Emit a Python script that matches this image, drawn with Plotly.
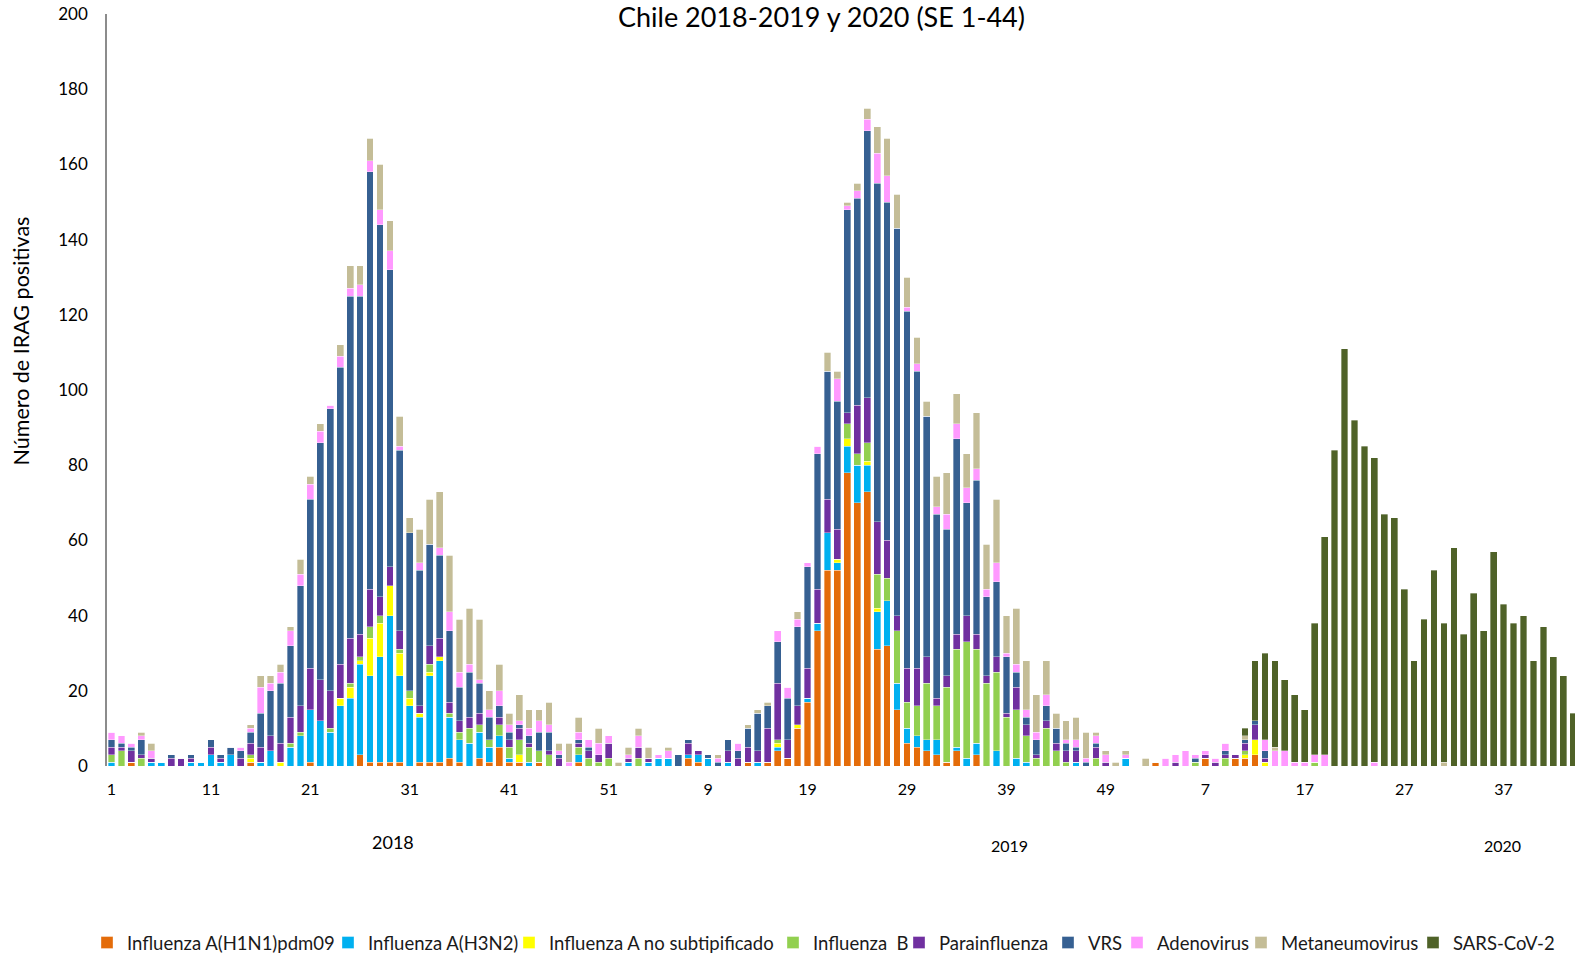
import plotly.graph_objects as go

# ---------------- data ----------------
weeks_2018 = list(range(1, 53))
weeks_2019 = list(range(1, 53))
weeks_2020 = list(range(1, 45))

h1n1_2018 = [0,0,1,0,0,0,0,0,0,0, 0,0,0,0,1,0,0,0,0,0, 1,0,0,0,0,3,1,1,1,1,
             0,1,1,1,2,1,0,2,1,5, 1,1,0,1,0,0,0,1,0,0, 0,0]
h1n1_2019 = [0,0,0,0,0,0,2,1,0,0, 0,0,1,0,1,4,2,10,17,36, 52,52,78,70,73,31,32,15,6,5,
             4,3,1,4,0,3,0,0,0,0, 0,0,0,0,0,0,0,0,0,0, 0,0]
h1n1_2020 = [0,1,0,0,0,0,2,0,0,2, 2,3,0,0,0,0,0,0,0,0, 0,0,0,0,0,0,0,0,0,0,
             0,0,0,0,0,0,0,0,0,0, 0,0,0,0]

h3n2_2018 = [1,0,0,0,1,1,0,0,1,1, 3,1,3,0,0,1,4,0,5,8, 14,12,9,16,18,24,23,28,39,23,
             16,12,23,27,11,6,6,7,4,3, 1,0,1,0,0,0,0,2,0,0, 0,0]
h3n2_2019 = [1,0,1,2,2,0,1,2,2,0, 1,0,0,1,0,1,0,0,1,2, 10,2,7,10,7,10,12,7,4,3,
             3,4,0,1,2,3,0,4,0,2, 1,0,0,0,0,1,0,0,0,0, 2,0]
h3n2_2020 = [0,0,0,0,0,0,0,0,0,0, 0,0,0,0,0,0,0,0,0,0, 0,0,0,0,0,0,0,0,0,0,
             0,0,0,0,0,0,0,0,0,0, 0,0,0,0]

ans_2018 = [0,0,0,0,0,0,0,0,0,0, 0,0,0,0,1,0,0,1,0,0, 0,0,0,2,3,1,10,9,8,6,
            2,1,1,1,0,0,0,0,0,0, 0,2,0,0,0,0,0,0,0,0, 0,0]
ans_2019 = [0,0,0,0,0,0,0,0,0,0, 0,0,0,0,0,1,0,1,0,0, 0,1,2,0,1,1,0,0,0,0,
            0,0,0,0,0,0,0,0,0,0, 0,0,0,0,0,0,0,0,0,0, 0,0]
ans_2020 = [0,0,0,0,0,0,0,0,0,0, 1,4,1,0,0,0,0,0,0,0, 0,0,0,0,0,0,0,0,0,0,
            0,0,0,0,0,0,0,0,0,0, 0,0,0,0]

flub_2018 = [2,4,0,2,0,0,0,0,0,0, 0,0,0,0,1,0,0,0,1,1, 0,0,1,0,1,1,3,2,0,1,
             2,0,2,0,1,2,4,2,2,3, 3,4,4,3,3,0,0,2,2,1, 2,0]
flub_2019 = [0,2,0,0,0,0,0,0,0,0, 0,0,0,0,0,1,0,0,0,0, 0,0,4,3,5,9,6,14,7,8,
             15,9,20,26,31,25,22,21,13,13, 7,2,10,4,1,0,0,2,0,0, 0,0]
flub_2020 = [0,0,0,0,0,1,0,0,2,0, 1,0,0,0,0,0,0,1,0,0, 0,0,0,0,0,0,0,0,0,0,
             0,0,0,0,0,0,0,0,0,0, 0,0,0,0]

para_2018 = [2,1,3,1,1,0,2,2,1,0, 2,1,0,2,3,4,4,5,7,7, 11,11,10,9,12,6,10,5,5,5,
             0,2,5,5,3,3,3,3,0,2, 2,3,1,0,1,2,0,1,2,2, 4,0]
para_2019 = [1,3,1,0,0,0,3,1,0,0, 3,2,4,3,9,15,5,5,8,9, 9,8,3,13,12,14,10,4,9,10,
             7,2,3,4,7,4,2,4,1,6, 3,1,2,2,3,3,0,3,1,0, 0,0]
para_2020 = [0,0,0,1,0,0,1,1,1,1, 2,4,1,0,0,0,0,0,0,0, 0,0,0,0,0,0,0,0,0,0,
             0,0,0,0,0,0,0,0,0,0, 0,0,0,0]

vrs_2018 = [2,1,1,4,0,0,1,0,1,0, 2,1,2,2,3,9,12,16,19,32, 45,63,75,79,91,90,111,99,79,48,
            42,36,27,22,19,9,12,8,6,3, 2,1,2,5,5,1,0,1,1,0, 0,0]
vrs_2019 = [0,0,0,0,0,3,1,0,1,1, 3,2,5,10,6,11,11,21,27,36, 34,34,54,55,71,90,90,103,95,79,
            64,49,39,52,30,41,21,20,15,4, 2,4,4,4,2,1,1,1,0,0, 0,0]
vrs_2020 = [0,0,0,0,0,1,0,0,1,0, 1,1,2,0,0,0,0,0,0,0, 0,0,0,0,0,0,0,0,0,0,
            0,0,0,0,0,0,0,0,0,0, 0,0,0,0]

adeno_2018 = [2,2,1,1,2,0,0,0,0,0, 0,0,0,1,1,7,2,3,4,3, 4,3,1,3,2,3,3,4,5,1,
              0,2,0,2,5,4,2,1,2,4, 2,1,2,3,2,1,1,2,2,3, 2,0]
adeno_2019 = [1,3,0,1,2,0,0,0,0,1, 0,2,0,0,0,3,3,2,1,2, 0,6,1,2,3,8,7,0,1,2,
              0,2,4,4,4,3,2,5,1,2, 2,2,3,0,1,2,1,2,2,0, 1,0]
adeno_2020 = [0,0,2,2,4,1,1,1,2,0, 0,0,3,4,4,1,1,2,3,0, 0,0,0,1,0,0,0,0,0,0,
              0,0,0,0,0,0,0,0,0,0, 0,0,0,0]

meta_2018 = [0,0,0,1,2,0,0,0,0,0, 0,0,0,0,1,3,2,2,1,4, 2,2,0,3,6,5,6,12,8,8,
             4,9,12,15,15,14,15,16,5,7, 3,7,5,3,6,2,5,4,0,4, 0,1]
meta_2019 = [2,2,3,0,1,0,0,0,0,1, 0,0,1,1,1,0,0,2,0,0, 5,2,1,2,3,7,10,9,8,7,
             4,8,11,8,9,15,12,17,10,15, 13,10,9,4,5,6,7,1,1,1, 1,0]
meta_2020 = [2,0,0,0,0,0,0,0,0,0, 1,0,0,1,0,0,0,0,0,0, 0,0,0,0,0,0,0,0,0,0,
             1,0,0,0,0,0,0,0,0,0, 0,0,0,0]

sars_2018 = [0] * 52
sars_2019 = [0] * 52
sars_2020 = [0,0,0,0,0,0,0,0,0,0, 2,16,23,23,19,18,14,35,58,84,
             111,92,85,81,67,66,47,28,39,52, 37,58,35,46,36,57,43,38,40,28,
             37,29,24,14]

series_names = ["Influenza A(H1N1)pdm09", "Influenza A(H3N2)", "Influenza A no subtipificado",
                "Influenza  B", "Parainfluenza", "VRS", "Adenovirus", "Metaneumovirus", "SARS-CoV-2"]
series_values = [
    h1n1_2018 + h1n1_2019 + h1n1_2020,
    h3n2_2018 + h3n2_2019 + h3n2_2020,
    ans_2018 + ans_2019 + ans_2020,
    flub_2018 + flub_2019 + flub_2020,
    para_2018 + para_2019 + para_2020,
    vrs_2018 + vrs_2019 + vrs_2020,
    adeno_2018 + adeno_2019 + adeno_2020,
    meta_2018 + meta_2019 + meta_2020,
    sars_2018 + sars_2019 + sars_2020,
]
series_colors = ["#E46C0A", "#00B0F0", "#FFFF00", "#92D050", "#7030A0",
                 "#366092", "#FF99FF", "#C4BD97", "#4F6228"]

categories = ([f"2018-{w}" for w in weeks_2018] + [f"2019-{w}" for w in weeks_2019]
              + [f"2020-{w}" for w in weeks_2020])
for v in series_values:
    assert len(v) == len(categories)

tick_cats = categories[::10]
tick_text = [c.split("-")[1] for c in tick_cats]

FONT = "Lato"
W, H = 1575, 953
L, R, T, B = 107, 0, 14, 187
plot_w = W - L - R
plot_h = H - T - B

# legend text start positions (px) for each entry
legend_text_px = [127, 368, 549, 813, 939, 1088, 1157, 1281, 1453]
legend_y_px = 943

fig = go.Figure()
legend_layout = {}
for i, (name, vals, col) in enumerate(zip(series_names, series_values, series_colors)):
    lg = "legend" if i == 0 else f"legend{i+1}"
    fig.add_trace(go.Bar(
        x=categories, y=vals, name=name,
        marker=dict(color=col, line=dict(color="rgba(255,255,255,0.7)", width=0.5)),
        legend=lg,
    ))
    legend_layout[lg] = dict(
        orientation="h", xref="container", yref="paper",
        x=(legend_text_px[i] - 40) / W, y=(H - B - legend_y_px) / plot_h,
        xanchor="left", yanchor="middle",
        font=dict(family=FONT, size=18.5, color="#1a1a1a"),
        bgcolor="rgba(0,0,0,0)", borderwidth=0,
    )

fig.update_layout(
    width=W, height=H,
    barmode="stack", bargap=0.32,
    plot_bgcolor="white", paper_bgcolor="white",
    margin=dict(l=L, r=R, t=T, b=B, pad=0, autoexpand=False),
    font=dict(family=FONT, color="#262626"),
    title=dict(text="Chile 2018-2019 y 2020 (SE 1-44)", x=821.5 / W, xanchor="center",
               xref="container", yref="container", y=1 - 18 / H, yanchor="middle",
               font=dict(family=FONT, size=27, color="#000000")),
    showlegend=True,
    **legend_layout,
)

fig.update_xaxes(
    type="category", range=[-0.45, 147.18], automargin=False,
    tickmode="array", tickvals=tick_cats, ticktext=tick_text,
    showline=False, showgrid=False, zeroline=False, ticks="",
    ticklabelstandoff=12, tickangle=0,
    tickfont=dict(family=FONT, size=16, color="#000000"),
)
fig.update_yaxes(
    range=[0, 200], tickmode="array", tickvals=list(range(0, 201, 20)), automargin=False,
    showline=True, linecolor="#8C8C8C", linewidth=1.5,
    showgrid=False, zeroline=False, ticks="", ticklabelstandoff=14,
    tickfont=dict(family=FONT, size=17, color="#000000"),
)

# y-axis title
fig.add_annotation(text="Número de IRAG positivas", textangle=-90,
                   xref="paper", yref="paper",
                   x=(20 - L) / plot_w, y=(H - B - 341.5) / plot_h,
                   xanchor="center", yanchor="middle", showarrow=False,
                   font=dict(family=FONT, size=21.5, color="#000000"))
# year labels
year_labels = ["2018", "2019", "2020"]
year_pos = [(28.3, 842, 18), (90.3, 845, 16), (139.9, 845, 16)]
for lab, (xi, ypx, fs) in zip(year_labels, year_pos):
    fig.add_annotation(text=lab, xref="x", yref="paper", x=xi,
                       y=(H - B - ypx) / plot_h, xanchor="center", yanchor="middle",
                       showarrow=False, font=dict(family=FONT, size=fs, color="#000000"))

fig.write_html("out.html", config={"displayModeBar": False},
               post_script="document.body.style.margin='0px';")
